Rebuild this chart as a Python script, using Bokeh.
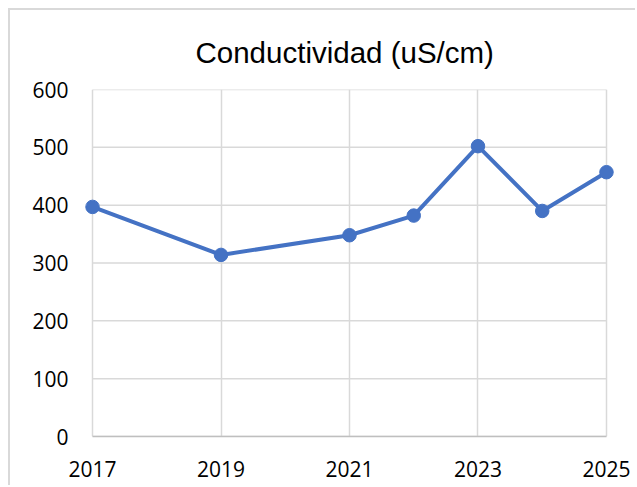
from bokeh.plotting import figure
from bokeh.models import Range1d, FixedTicker
from bokeh.embed import file_html
from bokeh.resources import INLINE

# data
years = [2017, 2019, 2021, 2022, 2023, 2024, 2025]
conductividad = [397, 314, 348, 382, 502, 390, 457]
x_ticks = [2017, 2019, 2021, 2023, 2025]
y_ticks = [0, 100, 200, 300, 400, 500, 600]
title_text = "Conductividad (uS/cm)"

line_color = "#4472C4"
grid_color = "#d9d9d9"
tick_font = "Open Sans"

pad = 0.125
p = figure(width=627, height=477, output_backend="svg", toolbar_location=None,
           x_range=Range1d(years[0] - pad, years[-1] + pad),
           y_range=Range1d(y_ticks[0], y_ticks[-1]),
           min_border_left=74, min_border_right=23,
           min_border_top=79, min_border_bottom=51,
           title=title_text)
p.styles = {"border-left": "2px solid #d9d9d9", "border-top": "2px solid #d9d9d9",
            "margin-left": "8px", "margin-top": "8px"}
p.outline_line_color = None
p.background_fill_color = "white"
p.border_fill_color = "white"

p.title.align = "left"
p.title.offset = 111
p.title.standoff = 42
p.title.text_font = "Liberation Sans"
p.title.text_font_size = "29.5px"
p.title.text_font_style = "normal"
p.title.text_color = "#000000"

# horizontal grid lines restricted to the data span
p.segment(x0=[x_ticks[0]] * len(y_ticks), x1=[x_ticks[-1]] * len(y_ticks),
          y0=y_ticks, y1=y_ticks, line_color=grid_color, line_width=1.5)
p.ygrid.visible = False
p.xgrid.ticker = FixedTicker(ticks=x_ticks)
p.xgrid.grid_line_color = grid_color
p.xgrid.grid_line_width = 1.5

p.line(years, conductividad, line_color=line_color, line_width=4)
p.scatter(years, conductividad, size=13.5, fill_color=line_color, line_color=line_color)

xa = p.xaxis[0]
xa.ticker = FixedTicker(ticks=x_ticks)
xa.bounds = (x_ticks[0], x_ticks[-1])
xa.axis_line_color = "#bfbfbf"
xa.axis_line_width = 1.5
xa.major_tick_line_color = None
xa.minor_tick_line_color = None
xa.major_label_standoff = 18
xa.major_label_text_font = tick_font
xa.major_label_text_font_size = "21px"
xa.major_label_text_color = "#000000"

ya = p.yaxis[0]
ya.ticker = FixedTicker(ticks=y_ticks)
ya.axis_line_color = None
ya.major_tick_line_color = None
ya.minor_tick_line_color = None
ya.major_label_standoff = 10
ya.major_label_text_font = tick_font
ya.major_label_text_font_size = "21px"
ya.major_label_text_color = "#000000"

open("out.html", "w").write(file_html(p, INLINE))
